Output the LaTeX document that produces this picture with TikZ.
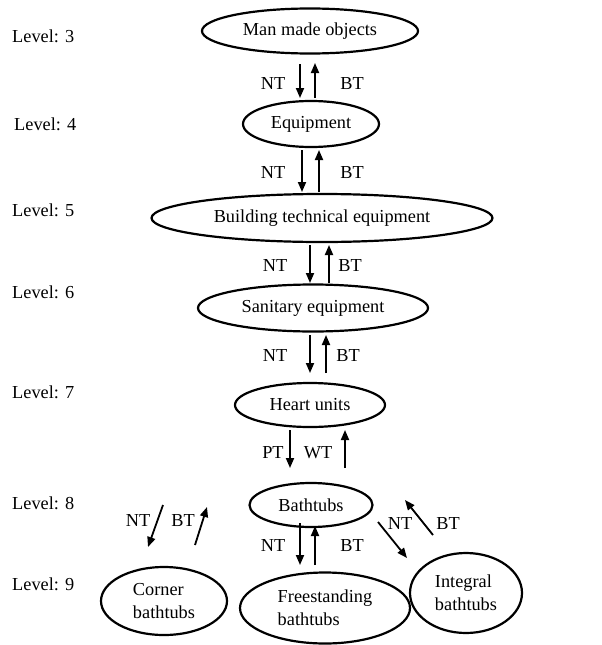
\documentclass[tikz,border=0pt]{standalone}
\usepackage{fontspec}
\setmainfont{Liberation Serif}
\usetikzlibrary{shapes.geometric,arrows.meta,calc}
\begin{document}
\begin{tikzpicture}[x=1pt,y=-1pt,
  every node/.style={font=\fontsize{18.3}{23}\selectfont},
  ell/.style={draw,ellipse,line width=2.2pt,inner sep=0pt},
  lvl/.style={anchor=base west,inner sep=0pt},
  lab/.style={anchor=base,inner sep=0pt},
  arr/.style={line width=1.8pt,-{Triangle[length=10pt,width=8pt]}}]
\useasboundingbox (0,0) rectangle (602,645);
% levels
\node[lvl] (l3) at (12,42) {Level: 3};
\node[lvl] (l4) at (14,130.5) {Level: 4};
\node[lvl] (l5) at (12,216.5) {Level: 5};
\node[lvl] (l6) at (12,298.5) {Level: 6};
\node[lvl] (l7) at (12,398) {Level: 7};
\node[lvl] (l8) at (12,509.5) {Level: 8};
\node[lvl] (l9) at (12,590.5) {Level: 9};
% ellipses
\node[ell,minimum width=216pt,minimum height=45pt] (man) at (310,31) {Man made objects};
\node[ell,minimum width=136pt,minimum height=46pt] (eq) at (311,124) {Equipment};
\node[ell,minimum width=341pt,minimum height=48pt] (bte) at (322,218) {Building technical equipment};
\node[ell,minimum width=230pt,minimum height=47pt] (san) at (313,308) {Sanitary equipment};
\node[ell,minimum width=150pt,minimum height=44pt] (heart) at (310,405) {Heart units};
\node[ell,minimum width=123pt,minimum height=44pt] (bath) at (311,505) {Bathtubs};
\node[ell,minimum width=126pt,minimum height=68pt,align=left] (corner) at (164,601) {Corner\\bathtubs};
\node[ell,minimum width=170pt,minimum height=71pt,align=left] (free) at (325,608) {Freestanding\\bathtubs};
\node[ell,minimum width=112pt,minimum height=80pt,align=left] (integral) at (466,593) {Integral\\bathtubs};
% arrows
\draw[arr] ($(man)+(-10,33)$) -- ($(eq)+(-11,-26)$);
\draw[arr] ($(eq)+(4,-26)$) -- ($(man)+(5,32)$);
\draw[arr] ($(eq)+(-9,26)$) -- ($(bte)+(-20,-26)$);
\draw[arr] ($(bte)+(-3,-26)$) -- ($(eq)+(8,26)$);
\draw[arr] ($(bte)+(-12,27)$) -- ($(san)+(-3,-25)$);
\draw[arr] ($(san)+(16,-25)$) -- ($(bte)+(7,27)$);
\draw[arr] ($(san)+(-3,27)$) -- ($(heart)+(0,-32)$);
\draw[arr] ($(heart)+(16,-32)$) -- ($(san)+(13,27)$);
\draw[arr] ($(heart)+(-20,25)$) -- ($(bath)+(-21,-37)$);
\draw[arr] ($(bath)+(34,-37)$) -- ($(heart)+(35,25)$);
\draw[arr] ($(bath)+(-11,18)$) -- ($(free)+(-25,-43)$);
\draw[arr] ($(free)+(-10,-43)$) -- ($(bath)+(4,21)$);
\draw[arr] ($(bath)+(-148,0)$) -- ($(corner)+(-16,-54)$);
\draw[arr] ($(corner)+(31,-56)$) -- ($(bath)+(-104,2)$);
\draw[arr] ($(bath)+(67,17)$) -- ($(integral)+(-59,-35)$);
\draw[arr] ($(integral)+(-33,-58)$) -- ($(bath)+(94,-5)$);
% labels
\node[lab] (n1) at (273,89.5) {NT};
\node[lab] (b1) at (352,89.5) {BT};
\node[lab] (n2) at (273,178.5) {NT};
\node[lab] (b2) at (352,178.5) {BT};
\node[lab] (n3) at (275,271.5) {NT};
\node[lab] (b3) at (350,271.5) {BT};
\node[lab] (n4) at (275,361.5) {NT};
\node[lab] (b4) at (348,361.5) {BT};
\node[lab] (p5) at (273,458.5) {PT};
\node[lab] (w5) at (318,458.5) {WT};
\node[lab] (n6) at (273,551.5) {NT};
\node[lab] (b6) at (352,551.5) {BT};
\node[lab] (nl) at (138,526.5) {NT};
\node[lab] (bl) at (183,526.5) {BT};
\node[lab] (nr) at (400,529.5) {NT};
\node[lab] (br) at (448,529.5) {BT};
\end{tikzpicture}
\end{document}
